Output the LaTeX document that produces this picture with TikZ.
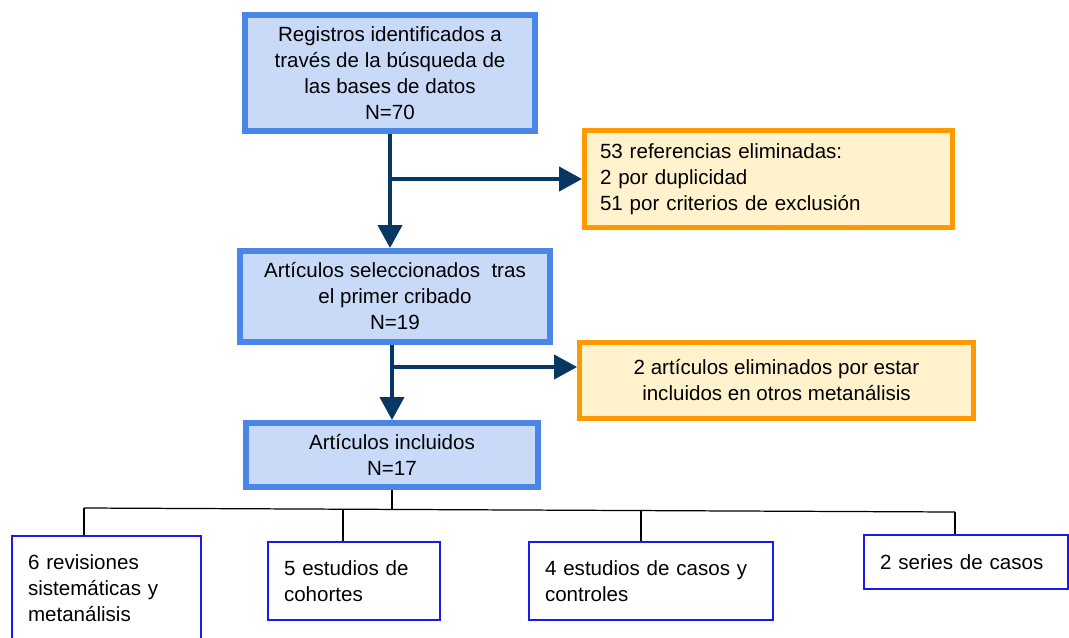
\documentclass[tikz,border=0pt]{standalone}
\usepackage{fontspec}
\setmainfont{Liberation Sans}
\usepackage{tikz}
\usetikzlibrary{arrows.meta}
\definecolor{boxblue}{HTML}{4A86E8}
\definecolor{boxbluefill}{HTML}{C9DAF8}
\definecolor{boxorange}{HTML}{FF9900}
\definecolor{boxorangefill}{HTML}{FFF2CC}
\definecolor{arrowblue}{HTML}{073763}
\definecolor{leafblue}{HTML}{1A1AF0}
\tikzset{
  txt/.style={font=\fontsize{11.7}{14.8}\selectfont},
  stagebox/.style={txt, draw=boxblue, fill=boxbluefill, line width=3.4pt, align=center, inner sep=0pt},
  outbox/.style={txt, draw=boxorange, fill=boxorangefill, line width=2.8pt, inner sep=0pt},
  leafbox/.style={txt, draw=leafblue, fill=white, line width=0.8pt, align=left, inner xsep=0.32cm, inner ysep=0pt, text width=#1},
  flow/.style={arrowblue, line width=2.3pt, -{Triangle[length=0.46cm,width=0.48cm]}},
  tree/.style={black, line width=0.7pt}
}
\begin{document}
\begin{tikzpicture}[x=0.02cm, y=-0.02cm]
		\useasboundingbox (0,0) rectangle (1069,637);
		\path (390,73) node(reg)[stagebox, minimum width=5.8cm, minimum height=2.32cm]{Registros identificados a\\trav\'es de la b\'usqueda de\\las bases de datos\\N=70}
		(395,296.5) node(sel)[stagebox, minimum width=6.2cm, minimum height=1.82cm]{Art\'iculos seleccionados\ \ tras\\el primer cribado\\N=19}
		(392,455) node(inc)[stagebox, minimum width=5.84cm, minimum height=1.28cm]{Art\'iculos incluidos\\N=17}
		(768.5,179) node(ex1)[outbox, align=left, inner xsep=0.31cm, text width=6.74cm, minimum height=1.94cm]{53 referencias eliminadas:\\2 por duplicidad\\51 por criterios de exclusi\'on}
		(776.5,380.5) node(ex2)[outbox, align=center, minimum width=7.88cm, minimum height=1.52cm]{2 art\'iculos eliminados por estar\\incluidos en otros metan\'alisis};
		\path (106.5,588) node(lf1)[leafbox=3.14cm, minimum height=2.08cm]{6 revisiones\\sistem\'aticas y\\metan\'alisis}
		(354,581) node(lf2)[leafbox=2.8cm, minimum height=1.56cm]{5 estudios de\\cohortes}
		(651,581) node(lf3)[leafbox=4.24cm, minimum height=1.56cm]{4 estudios de casos y\\controles}
		(966,562) node(lf4)[leafbox=3.44cm, minimum height=1.08cm]{2 series de casos};
		\coordinate (br2) at ([yshift=0.27cm]ex2.west);
		\draw [flow] (reg.south) -- (reg.south |- sel.north);
		\draw [flow] (reg.south |- ex1.west) -- (ex1.west);
		\draw [flow] (sel.south -| inc.north) -- (inc.north);
		\draw [flow] (inc.north |- br2) -- (br2);
		\coordinate (t1) at (84,508);
		\coordinate (t2) at (343,509);
		\coordinate (t3) at (641,510.5);
		\coordinate (t4) at (955,512);
		\draw [tree] (inc.south) -- ++(0,19.4);
		\draw [tree] (t1) -- (t4);
		\draw [tree] (t1) -- (t1 |- lf1.north);
		\draw [tree] (t2) -- (t2 |- lf2.north);
		\draw [tree] (t3) -- (t3 |- lf3.north);
		\draw [tree] (t4) -- (t4 |- lf4.north);
	\end{tikzpicture}
\end{document}
